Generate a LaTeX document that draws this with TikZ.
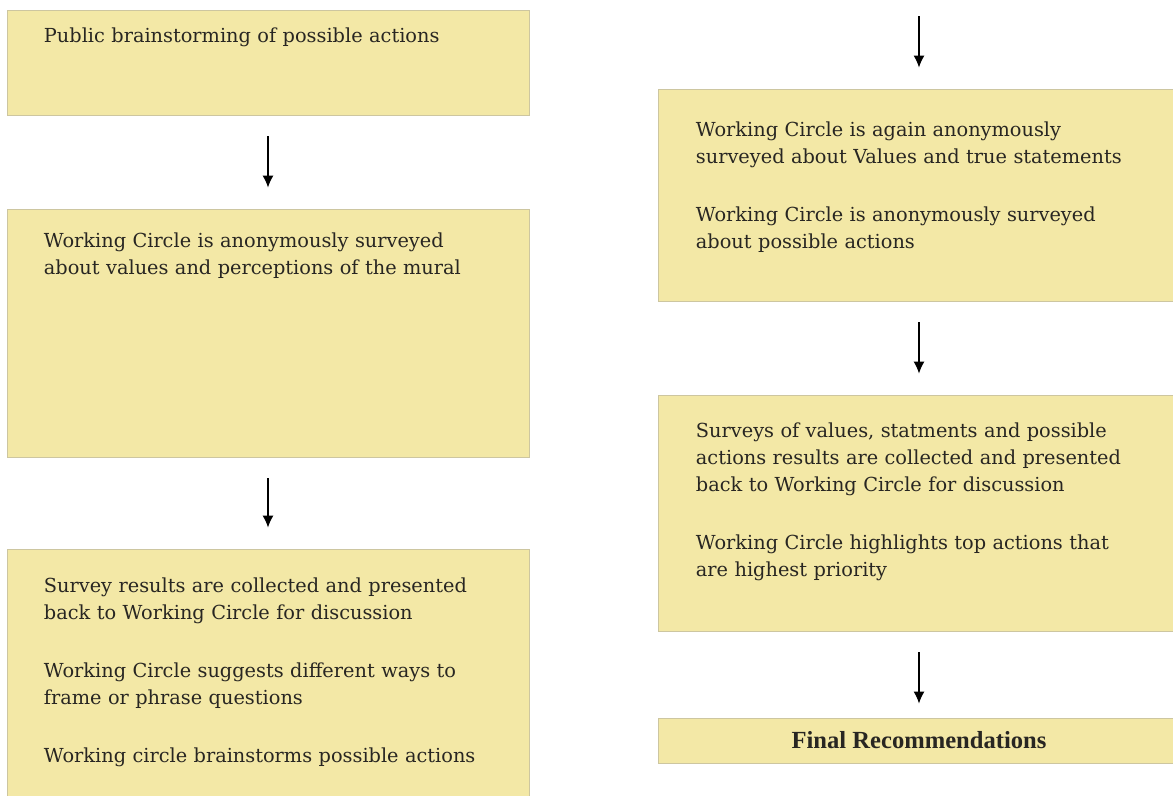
\documentclass[tikz,border=0pt]{standalone}
\usepackage{fontspec}
\setmainfont{DejaVu Serif}
\newfontfamily\finalfont{Liberation Serif}
\usetikzlibrary{arrows.meta}
\definecolor{boxfill}{RGB}{243,232,166}
\definecolor{boxline}{RGB}{205,198,160}
\definecolor{inkgray}{RGB}{40,38,34}
\tikzstyle{stepbox}=[rectangle,fill=boxfill,draw=boxline,line width=0.5pt,inner sep=0pt,minimum width=10.44cm]
\tikzstyle{steptext}=[anchor=base west,inner sep=0pt,text width=9.8cm,align=left,text=inkgray,font=\fontsize{11}{15.4}\selectfont]
\tikzstyle{edge}=[draw,line width=0.8pt,-{Latex[length=2.4mm,width=2.2mm]}]

\begin{document}
\begin{tikzpicture}[x=0.02cm,y=-0.02cm]
    \path[use as bounding box,clip] (0,0) rectangle (1173,795);
    % First the boxes of both columns
    \foreach \pos/\name/\h in {{(268,62.5)/public/2.1}, {(268,333)/survey/4.96}, {(268,674)/results/5.0},
                               {(919,195)/again/4.24}, {(919,513)/collect/4.72}}
        \node[stepbox, minimum height=\h cm] (\name) at \pos {};
    \node[stepbox, minimum height=0.9cm, text=inkgray,
          font=\finalfont\bfseries\fontsize{14}{16}\selectfont] (final) at (919,740.5) {Final Recommendations};

    % Then the texts inside them
    \node[steptext] (publictxt) at ([shift={(37,33)}]public.north west)
        {Public brainstorming of possible actions};
    \node[steptext] (surveytxt) at ([shift={(37,39)}]survey.north west)
        {Working Circle is anonymously surveyed\\
         about values and perceptions of the mural};
    \node[steptext] (resultstxt) at ([shift={(37,44)}]results.north west)
        {Survey results are collected and presented\\
         back to Working Circle for discussion\\[17.6pt]
         Working Circle suggests different ways to\\
         frame or phrase questions\\[17.6pt]
         Working circle brainstorms possible actions};
    \node[steptext] (againtxt) at ([shift={(38,48)}]again.north west)
        {Working Circle is again anonymously\\
         surveyed about Values and true statements\\[17.6pt]
         Working Circle is anonymously surveyed\\
         about possible actions};
    \node[steptext] (collecttxt) at ([shift={(38,43)}]collect.north west)
        {Surveys of values, statments and possible\\
         actions results are collected and presented\\
         back to Working Circle for discussion\\[17.6pt]
         Working Circle highlights top actions that\\
         are highest priority};

    % Connect the boxes with arrows
    \coordinate (start) at (919,16);
    \path[edge, shorten >=0.42cm] (start) -- (again);
    \foreach \source/\dest/\gap in {public/survey/0.42cm, survey/results/0.42cm,
                                    again/collect/0.42cm, collect/final/0.28cm}
        \path[edge, shorten <=0.42cm, shorten >=\gap] (\source) -- (\dest);
\end{tikzpicture}
\end{document}
